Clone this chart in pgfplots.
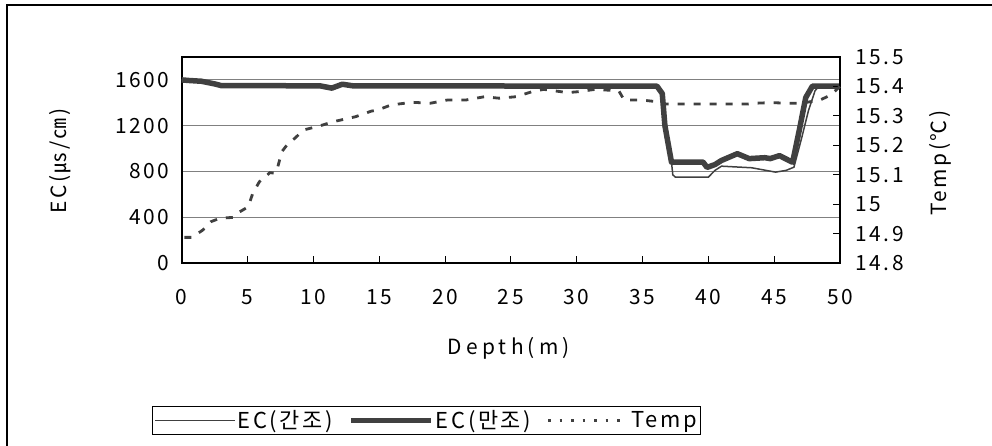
\documentclass[border=0pt]{standalone}
\usepackage{fontspec}
\setmainfont{Noto Sans CJK KR}
\newfontfamily\spaced[LetterSpace=12]{Noto Sans CJK KR}
\newfontfamily\wide[LetterSpace=20]{Noto Sans CJK KR}
\usepackage{pgfplots}
\pgfplotsset{compat=1.18}
\definecolor{ln}{HTML}{404040}
\definecolor{gr}{HTML}{808080}
\begin{document}
\begin{tikzpicture}[x=1bp,y=1bp]
\useasboundingbox (0,0) rectangle (992,446);
\draw[line width=1.2bp] (7,-5) -- (7,441) -- (1000,441);
\begin{axis}[
  at={(181.7bp,183bp)}, anchor=south west,
  scale only axis, width=658.3bp, height=206bp,
  xmin=0, xmax=50, ymin=0, ymax=1800,
  xtick={0,5,...,50}, ytick={0,400,800,1200,1600},
  xtick pos=left, tick align=inside,
  major tick length=7bp,
  ytick style={draw=none},
  xtick style={black, line width=0.8bp},
  ymajorgrids, grid style={gr, line width=0.8bp},
  axis line style={black, line width=1.6bp},
  /pgf/number format/assume math mode=true,
  /pgf/number format/1000 sep={},
  tick label style={font=\spaced\fontsize{21}{21}\selectfont},
  yticklabel style={xshift=-9bp},
  xticklabel style={yshift=-23bp},
  xlabel={\wide Depth(m)},
  xlabel style={at={(axis description cs:0.497,-0.413)}, anchor=center, font=\fontsize{21}{21}\selectfont},
  ylabel={\spaced EC(㎲/㎝)},
  ylabel style={at={(axis description cs:-0.185,0.495)}, anchor=center, font=\fontsize{21}{21}\selectfont},
  clip=false,
]
\addplot[ln, line width=1.5bp] coordinates {
(0,1600) (0.5,1598) (1.5,1592) (2.5,1565) (3,1550) (10.5,1548) (11.4,1528) (12.2,1562) (13,1548)
(36.1,1545) (36.5,1480) (36.7,1200) (37.2,881) (37.3,770) (37.5,750) (40.0,750) (40.5,809)
(41.0,846) (43.3,832) (45.1,794) (45.9,809) (46.5,837) (47.1,1098) (47.6,1330) (48.1,1504)
(48.4,1545) (50,1545)
};
\addplot[ln, line width=5.5bp, line join=round] coordinates {
(0,1600) (0.5,1595) (1.5,1588) (2.5,1565) (3,1550) (10.5,1548) (11.4,1528) (12.2,1562) (13,1548)
(36.1,1545) (36.5,1480) (36.7,1200) (37.2,881) (39.6,881) (39.9,835) (40.5,860) (41.0,896)
(42.2,955) (43.1,912) (44.3,920) (44.7,912) (45.4,938) (46.4,880) (46.9,1157) (47.4,1446)
(47.9,1545) (50,1545)
};
\end{axis}
\begin{axis}[
  at={(181.7bp,183bp)}, anchor=south west,
  scale only axis, width=658.3bp, height=206bp,
  xmin=0, xmax=50, ymin=14.8, ymax=15.5,
  axis x line=none, axis y line*=right,
  ytick={14.8,14.9,15.0,15.1,15.2,15.3,15.4,15.5},
  tick align=inside, major tick length=7bp,
  ytick style={black, line width=0.8bp},
  axis line style={black, line width=1.6bp},
  /pgf/number format/assume math mode=true,
  /pgf/number format/fixed, /pgf/number format/precision=1,
  tick label style={font=\spaced\fontsize{21}{21}\selectfont},
  yticklabel style={xshift=12bp},
  ylabel={\spaced Temp(℃)},
  ylabel style={at={(axis description cs:1.153,0.485)}, anchor=center, font=\fontsize{21}{21}\selectfont},
  clip=false,
  legend columns=3,
  legend style={at={(axis description cs:0.372,-0.765)}, anchor=center, draw=black, line width=0.8bp,
    font=\fontsize{22}{22}\selectfont, inner sep=2bp,
    /tikz/every even column/.append style={column sep=14bp}},
  legend image code/.code={\draw[#1] (0bp,0bp) -- (80bp,0bp);},
]
\addlegendimage{ln, line width=1.2bp}
\addlegendentry{\spaced EC(간조)}
\addlegendimage{ln, line width=5bp}
\addlegendentry{\spaced EC(만조)}
\addlegendimage{ln, line width=2.2bp, dash pattern=on 2.5bp off 9bp}
\addlegendentry{\spaced Temp}
\addplot[ln, line width=2.8bp, dash pattern=on 7bp off 9bp, forget plot] coordinates {
(0.2,14.887) (0.8,14.887) (1.6,14.912) (2.2,14.94) (2.9,14.952) (3.9,14.955) (4.3,14.971)
(5.05,14.991) (5.4,15.037) (5.9,15.076) (6.7,15.107) (7.1,15.105) (7.3,15.127) (7.6,15.178)
(8.1,15.207) (8.6,15.224) (9.25,15.252) (10.5,15.266) (11.5,15.28) (12.3,15.288) (13.2,15.297)
(14.4,15.316) (14.9,15.32) (15.9,15.337) (17.5,15.346) (18.9,15.343) (20.2,15.354) (21.6,15.354)
(23.0,15.365) (24.1,15.36) (25.4,15.365) (26.6,15.382) (27.5,15.39) (29.3,15.379) (30.1,15.382)
(31.4,15.39) (33.2,15.385) (33.6,15.354) (34.9,15.354) (36.1,15.348) (36.6,15.34) (43.0,15.34)
(43.6,15.343) (44.8,15.345) (45.9,15.343) (47.1,15.343) (48.5,15.354) (49.3,15.371) (50,15.40)
};
\end{axis}
\end{tikzpicture}
\end{document}
